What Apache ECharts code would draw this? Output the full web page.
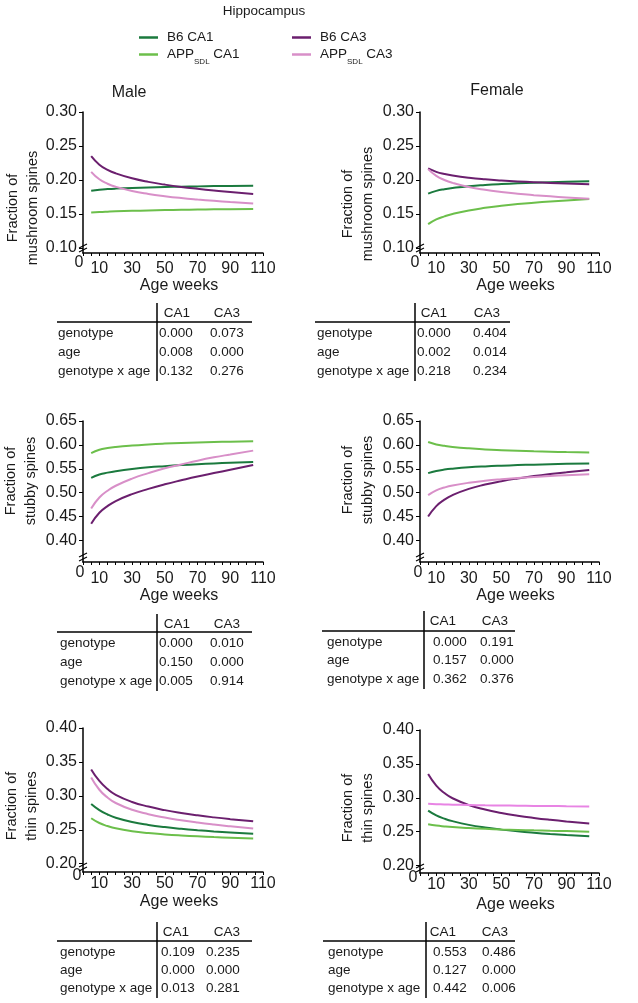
<!DOCTYPE html>
<html><head><meta charset="utf-8">
<script src="https://cdn.jsdelivr.net/npm/echarts@6/dist/echarts.min.js"></script>
<style>html,body{margin:0;padding:0;background:#fff}#c{width:638px;height:1003px}</style>
</head><body><div id="c"></div><script>
// ---- data ----
const ages = [5,10,15,20,30,40,50,60,70,80,90,104];
const seriesNames = ['B6 CA1','APP_SDL CA1','B6 CA3','APP_SDL CA3'];
const xTickLabels = [10,30,50,70,90,110];
const mushTicks = [0.10,0.15,0.20,0.25,0.30];
const stubbyTicks = [0.40,0.45,0.50,0.55,0.60,0.65];
const thinTicks = [0.20,0.25,0.30,0.35,0.40];

// Male mushroom
const mmB6CA1  = [0.1840,0.1856,0.1866,0.1873,0.1883,0.1891,0.1897,0.1902,0.1906,0.1910,0.1913,0.1917];
const mmAppCA1 = [0.1520,0.1528,0.1534,0.1539,0.1546,0.1552,0.1557,0.1561,0.1565,0.1568,0.1571,0.1575];
const mmB6CA3  = [0.2350,0.2225,0.2150,0.2098,0.2025,0.1972,0.1932,0.1898,0.1870,0.1845,0.1822,0.1795];
const mmAppCA3 = [0.2120,0.2010,0.1945,0.1900,0.1838,0.1795,0.1762,0.1735,0.1713,0.1694,0.1677,0.1655];
// Female mushroom
const fmB6CA1  = [0.1800,0.1840,0.1865,0.1882,0.1908,0.1926,0.1940,0.1951,0.1960,0.1968,0.1975,0.1983];
const fmAppCA1 = [0.1350,0.1420,0.1465,0.1500,0.1552,0.1590,0.1620,0.1645,0.1666,0.1684,0.1700,0.1720];
const fmB6CA3  = [0.2170,0.2120,0.2088,0.2065,0.2033,0.2010,0.1993,0.1979,0.1967,0.1957,0.1948,0.1936];
const fmAppCA3 = [0.2160,0.2060,0.2000,0.1958,0.1898,0.1856,0.1824,0.1798,0.1777,0.1759,0.1743,0.1723];
// Male stubby
const msB6CA1  = [0.5310,0.5380,0.5420,0.5450,0.5495,0.5530,0.5555,0.5577,0.5596,0.5612,0.5626,0.5643];
const msAppCA1 = [0.5830,0.5900,0.5935,0.5958,0.5988,0.6010,0.6027,0.6040,0.6051,0.6060,0.6068,0.6078];
const msB6CA3  = [0.4350,0.4580,0.4720,0.4825,0.4970,0.5080,0.5175,0.5260,0.5340,0.5410,0.5480,0.5580];
const msAppCA3 = [0.4670,0.4900,0.5040,0.5145,0.5295,0.5410,0.5510,0.5590,0.5670,0.5740,0.5800,0.5880];
// Female stubby
const fsB6CA1  = [0.5410,0.5455,0.5483,0.5502,0.5530,0.5550,0.5565,0.5577,0.5587,0.5596,0.5604,0.5613];
const fsAppCA1 = [0.6060,0.6010,0.5980,0.5958,0.5928,0.5906,0.5890,0.5877,0.5866,0.5857,0.5849,0.5839];
const fsB6CA3  = [0.4500,0.4720,0.4855,0.4950,0.5080,0.5170,0.5240,0.5298,0.5347,0.5390,0.5428,0.5476];
const fsAppCA3 = [0.4950,0.5050,0.5108,0.5150,0.5208,0.5250,0.5282,0.5308,0.5330,0.5350,0.5367,0.5388];
// Male thin
const mtB6CA1  = [0.2880,0.2790,0.2725,0.2678,0.2615,0.2572,0.2540,0.2515,0.2494,0.2476,0.2461,0.2442];
const mtAppCA1 = [0.2670,0.2600,0.2555,0.2522,0.2480,0.2452,0.2432,0.2416,0.2403,0.2392,0.2383,0.2372];
const mtB6CA3  = [0.3390,0.3220,0.3100,0.3015,0.2910,0.2842,0.2790,0.2748,0.2713,0.2683,0.2657,0.2625];
const mtAppCA3 = [0.3270,0.3090,0.2975,0.2895,0.2795,0.2730,0.2680,0.2640,0.2606,0.2577,0.2552,0.2520];
// Female thin
const ftB6CA1  = [0.2810,0.2740,0.2692,0.2655,0.2600,0.2560,0.2530,0.2505,0.2484,0.2466,0.2451,0.2432];
const ftAppCA1 = [0.2610,0.2590,0.2577,0.2567,0.2553,0.2542,0.2533,0.2526,0.2519,0.2513,0.2508,0.2500];
const ftB6CA3  = [0.3350,0.3180,0.3070,0.2993,0.2893,0.2826,0.2776,0.2736,0.2703,0.2675,0.2651,0.2622];
const ftAppCA3 = [0.2910,0.2905,0.2901,0.2898,0.2893,0.2889,0.2886,0.2883,0.2880,0.2878,0.2876,0.2873];

// p-value tables
const rowLabels = ['genotype','age','genotype x age'];
const colLabels = ['CA1','CA3'];
const tMushMaleCA1 = ['0.000','0.008','0.132'];
const tMushMaleCA3 = ['0.073','0.000','0.276'];
const tMushFemCA1  = ['0.000','0.002','0.218'];
const tMushFemCA3  = ['0.404','0.014','0.234'];
const tStubMaleCA1 = ['0.000','0.150','0.005'];
const tStubMaleCA3 = ['0.010','0.000','0.914'];
const tStubFemCA1  = ['0.000','0.157','0.362'];
const tStubFemCA3  = ['0.191','0.000','0.376'];
const tThinMaleCA1 = ['0.109','0.000','0.013'];
const tThinMaleCA3 = ['0.235','0.000','0.281'];
const tThinFemCA1  = ['0.553','0.127','0.442'];
const tThinFemCA3  = ['0.486','0.000','0.006'];

// ---- styling / layout ----
const FONT = 'Liberation Sans, Arial, sans-serif';
const TXT = '#1a1a1a';
const colors = ['#1b7a3e','#6cbf4b','#6b1f6e','#d88fc8'];

const panels = [
  {grid:{left:83,top:112,width:180,height:141}, yMin:0.0926, yMax:0.30, ticks:mushTicks,
   data:[mmB6CA1,mmAppCA1,mmB6CA3,mmAppCA3], yName:'Fraction of\nmushroom spines', nameC:[23,208], lm:8, ng:25, zOff:[-4,10]},
  {grid:{left:420,top:112,width:179,height:141}, yMin:0.0926, yMax:0.30, ticks:mushTicks,
   data:[fmB6CA1,fmAppCA1,fmB6CA3,fmAppCA3], yName:'Fraction of\nmushroom spines', nameC:[358,204], lm:8, ng:25, zOff:[-5,10]},
  {grid:{left:83,top:421,width:180,height:141}, yMin:0.355, yMax:0.65, ticks:stubbyTicks,
   data:[msB6CA1,msAppCA1,msB6CA3,msAppCA3], yName:'Fraction of\nstubby spines', nameC:[21,481], lm:9, ng:26, zOff:[-3,11]},
  {grid:{left:420,top:421,width:179,height:141}, yMin:0.355, yMax:0.65, ticks:stubbyTicks,
   data:[fsB6CA1,fsAppCA1,fsB6CA3,fsAppCA3], yName:'Fraction of\nstubby spines', nameC:[358,480], lm:9, ng:26, zOff:[-2,11]},
  {grid:{left:83,top:728,width:180,height:144}, yMin:0.1878, yMax:0.40, ticks:thinTicks,
   data:[mtB6CA1,mtAppCA1,mtB6CA3,mtAppCA3], yName:'Fraction of\nthin spines', nameC:[22,806], lm:4, ng:22, zOff:[-6,4]},
  {grid:{left:420,top:730,width:179,height:143}, yMin:0.189, yMax:0.40, ticks:thinTicks,
   data:[ftB6CA1,ftAppCA1,ftB6CA3,ftAppCA3], yName:'Fraction of\nthin spines', nameC:[358,808], lm:4, ng:24, zOff:[-7,5],
   colorOverride:{3:'#e884e4'}}
];

const tables = [
  {c1:tMushMaleCA1,c3:tMushMaleCA3,lx:58, vx:157,hx:[57,252], hy:313,ly:322,ry:[333,352,371],hc:[177,227],vl:[159,210]},
  {c1:tMushFemCA1, c3:tMushFemCA3, lx:317,vx:415,hx:[315,510],hy:313,ly:322,ry:[333,352,371],hc:[434,487],vl:[417,473]},
  {c1:tStubMaleCA1,c3:tStubMaleCA3,lx:60, vx:157,hx:[57,252], hy:624,ly:632,ry:[643,662,681],hc:[177,227],vl:[159,210]},
  {c1:tStubFemCA1, c3:tStubFemCA3, lx:327,vx:424,hx:[322,515],hy:621,ly:631,ry:[642,660,679],hc:[443,495],vl:[433,480]},
  {c1:tThinMaleCA1,c3:tThinMaleCA3,lx:60, vx:157,hx:[57,252], hy:932,ly:941,ry:[952,970,988],hc:[176,227],vl:[161,206]},
  {c1:tThinFemCA1, c3:tThinFemCA3, lx:328,vx:426,hx:[323,515],hy:932,ly:941,ry:[952,970,988],hc:[443,495],vl:[433,482]}
];

const chart = echarts.init(document.getElementById('c'), null, {renderer:'canvas'});

const grids = [], xAxes = [], yAxes = [], series = [];
panels.forEach((p, i) => {
  grids.push(Object.assign({containLabel:false}, p.grid));
  xAxes.push({
    type:'value', gridIndex:i, min:0, max:110, interval:5,
    axisLine:{show:true, onZero:false, lineStyle:{color:'#000', width:1.5}},
    axisTick:{show:true, inside:false, length:3, lineStyle:{color:'#000', width:1}},
    axisLabel:{fontSize:16, color:TXT, fontFamily:FONT, margin:p.lm,
      formatter: v => xTickLabels.indexOf(Math.round(v)) >= 0 ? String(Math.round(v)) : ''},
    splitLine:{show:false},
    name:'Age weeks', nameLocation:'middle', nameGap:p.ng,
    nameTextStyle:{fontSize:16, color:TXT, fontFamily:FONT, padding:[0,0,0,12]}
  });
  yAxes.push({
    type:'value', gridIndex:i, min:p.yMin, max:p.yMax,
    axisLine:{show:true, onZero:false, lineStyle:{color:'#000', width:1.5}},
    axisTick:{show:true, inside:false, length:4, customValues:p.ticks, lineStyle:{color:'#000', width:1}},
    axisLabel:{fontSize:16, color:TXT, fontFamily:FONT, margin:6, customValues:p.ticks,
      formatter: v => v.toFixed(2)},
    splitLine:{show:false}
  });
  p.data.forEach((arr, k) => {
    const col = (p.colorOverride && p.colorOverride[k]) || colors[k];
    series.push({
      type:'line', name:seriesNames[k], xAxisIndex:i, yAxisIndex:i,
      data: ages.map((a, j) => [a, arr[j]]),
      smooth:0.5, showSymbol:false, symbol:'none',
      lineStyle:{width:2, color:col}, itemStyle:{color:col}, z: 2 + k
    });
  });
});

function legendFmt(name) {
  if (name.indexOf('APP_SDL') === 0) {
    return '{m|APP}{s|SDL}{m|' + name.slice(7) + '}';
  }
  return '{m|' + name + '}';
}
const legendRich = {
  m:{fontSize:13.5, fontFamily:FONT, color:TXT, lineHeight:15, verticalAlign:'top'},
  s:{fontSize:8, fontFamily:FONT, color:TXT, lineHeight:9, verticalAlign:'top', padding:[11,0,0,0]}
};
function mkLegend(name, left, top) {
  return {
    data:[name], left:left, top:top, orient:'horizontal', selectedMode:false,
    icon:'rect', itemWidth:19, itemHeight:2.5, padding:0,
    formatter: legendFmt,
    textStyle:{rich:legendRich, padding:[0,0,0,4]}
  };
}

const graphics = [];
function txt(x, y, text, size, opts) {
  opts = opts || {};
  graphics.push({
    type:'text', x:x, y:y, rotation:opts.rot || 0, silent:true,
    style:{text:text, font:(size)+'px ' + (opts.font || FONT), fill:TXT,
      align:opts.align || 'center', verticalAlign:'middle',
      textAlign:opts.align || 'center', textVerticalAlign:'middle',
      lineHeight:opts.lh}
  });
}
function line(x1, y1, x2, y2, w) {
  graphics.push({type:'line', silent:true, shape:{x1:x1,y1:y1,x2:x2,y2:y2},
    style:{stroke:'#000', lineWidth:w || 1.5}});
}

txt(264, 11, 'Hippocampus', 13.5);
txt(129, 93, 'Male', 16);
txt(497, 91, 'Female', 16);
panels.forEach(p => txt(p.nameC[0], p.nameC[1], p.yName, 14.5, {rot:Math.PI/2, lh:20}));

const NUMFONT = '"Liberation Sans Narrow", "Liberation Sans", Arial, sans-serif';
tables.forEach(t => {
  line(t.hx[0], t.ly, t.hx[1], t.ly, 1.5);
  line(t.vx, t.hy - 10, t.vx, t.ry[2] + 10, 1.5);
  txt(t.hc[0], t.hy, colLabels[0], 13.5);
  txt(t.hc[1], t.hy, colLabels[1], 13.5);
  rowLabels.forEach((r, j) => {
    txt(t.lx, t.ry[j], r, 13.5, {align:'left'});
    txt(t.vl[0], t.ry[j], t.c1[j], 13.5, {align:'left', font:NUMFONT});
    txt(t.vl[1], t.ry[j], t.c3[j], 13.5, {align:'left', font:NUMFONT});
  });
});

const option = {
  animation:false,
  backgroundColor:'#fff',
  textStyle:{fontFamily:FONT},
  grid:grids, xAxis:xAxes, yAxis:yAxes, series:series,
  legend:[
    mkLegend('B6 CA1', 139, 30),
    mkLegend('APP_SDL CA1', 139, 47),
    mkLegend('B6 CA3', 292, 30),
    mkLegend('APP_SDL CA3', 292, 47)
  ],
  graphic:{elements:graphics}
};
chart.setOption(option);

// axis-origin "0" labels and axis-break marks, placed via the library's own scales
const extra = [];
panels.forEach((p, i) => {
  const o = chart.convertToPixel({gridIndex:i}, [0, p.yMin]);
  extra.push({
    type:'text', x:o[0] + p.zOff[0], y:o[1] + p.zOff[1], silent:true,
    style:{text:'0', font:'16px ' + FONT, fill:TXT, align:'center', verticalAlign:'middle',
      textAlign:'center', textVerticalAlign:'middle'}
  });
  [-7, -3].forEach(d => {
    extra.push({type:'line', silent:true,
      shape:{x1:o[0]-4, y1:o[1]+d+2, x2:o[0]+4, y2:o[1]+d-2},
      style:{stroke:'#000', lineWidth:1.2}});
  });
});
chart.setOption({graphic:{elements:graphics.concat(extra)}});
</script></body></html>
